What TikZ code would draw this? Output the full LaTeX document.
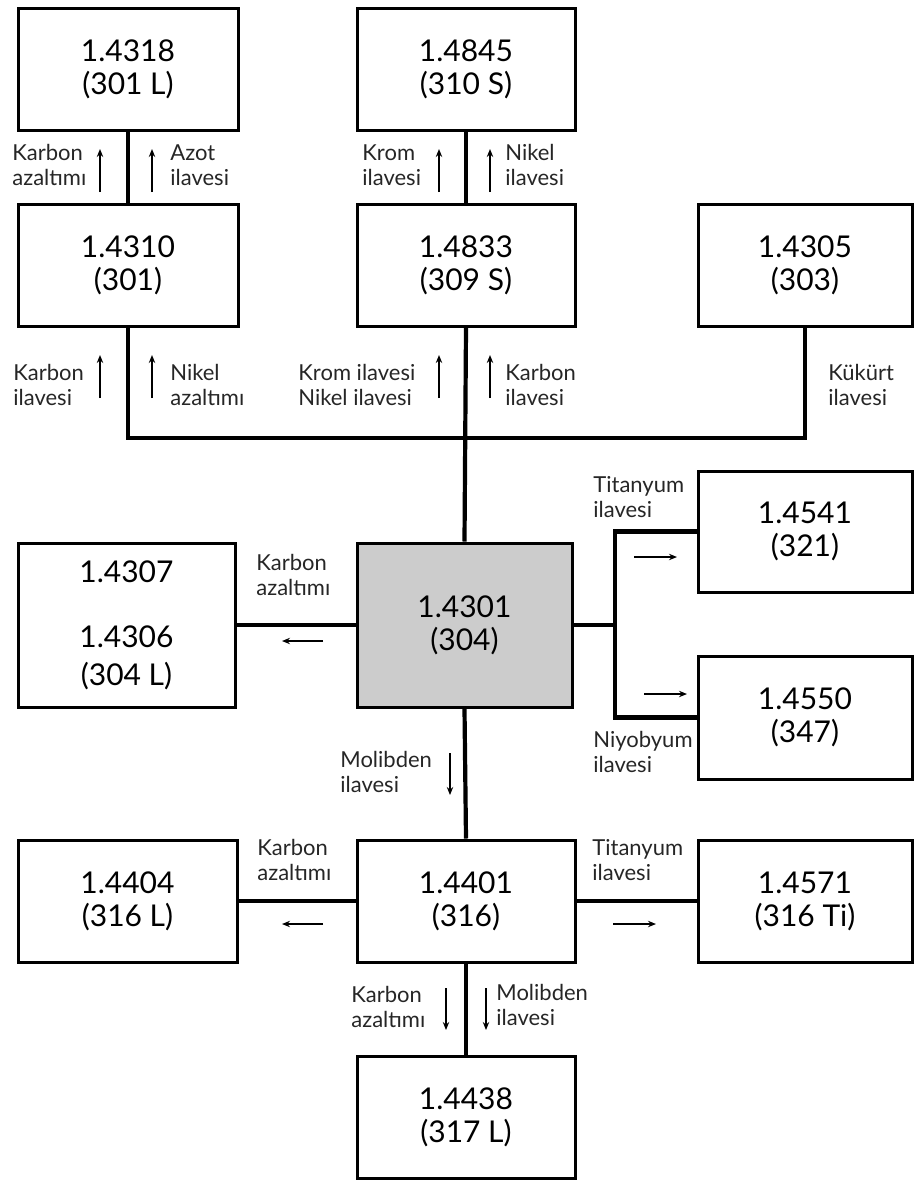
\documentclass[tikz,border=0pt]{standalone}
\usepackage{fontspec}
\setmainfont{Lato}
\newfontfamily\cuefont{Lato}
\usetikzlibrary{arrows.meta,positioning,calc}

\begin{document}
\begin{tikzpicture}[x=0.5pt,y=-0.5pt,>=Stealth,
  grade/.style={draw,line width=1.5pt,minimum width=109pt,minimum height=61pt,align=center,inner sep=0pt,font=\fontsize{15}{16.5}\selectfont},
  tall/.style={minimum height=82pt},
  conn/.style={line width=2.1pt},
  cue/.style={->,line width=0.7pt,>={Stealth[length=4pt,width=3.2pt]}},
  note/.style={anchor=west,align=left,inner sep=0pt,text=black!85,font=\cuefont\fontsize{11}{12.5}\selectfont}]
\useasboundingbox (0,0) rectangle (915,1180);
% grade boxes
\node[grade,minimum width=110pt] (g4318) at (128,69) {1.4318\\(301 L)};
\node[grade,minimum width=110pt] (g4310) at (128,265.5) {1.4310\\(301)};
\node[grade] (g4845) at (466,69) {1.4845\\(310 S)};
\node[grade] (g4833) at (466,265.5) {1.4833\\(309 S)};
\node[grade,minimum width=107pt] (g4305) at (805,265.5) {1.4305\\(303)};
\node[grade,tall,minimum width=107.5pt,fill=black!20] (g4301) at (464.5,625) {1.4301\\(304)};
\node[grade,tall,minimum width=108.5pt] (g4307) at (126.5,625) {1.4307\\[16pt]1.4306\\[2.5pt](304 L)};
\node[grade,minimum width=107pt,minimum height=60.5pt] (g4541) at (805,531.5) {1.4541\\(321)};
\node[grade,minimum width=107pt,minimum height=61.5pt] (g4550) at (805,717.5) {1.4550\\(347)};
\node[grade,minimum width=109.5pt] (g4404) at (127.5,901) {1.4404\\(316 L)};
\node[grade] (g4401) at (466,901) {1.4401\\(316)};
\node[grade,minimum width=107pt] (g4571) at (805,901) {1.4571\\(316 Ti)};
\node[grade] (g4438) at (466,1117) {1.4438\\(317 L)};
% connectors
\coordinate (bus) at (0,438);
\coordinate (fork) at (615,0);
\draw[conn] (g4318.south) -- (g4310.north);
\draw[conn] (g4845.south) -- (g4833.north);
\draw[conn] (g4310.south) -- (g4310.south |- bus) -- (g4305.south |- bus) -- (g4305.south);
\draw[conn] (g4833.south) -- (g4301.north);
\draw[conn] (g4301.west) -- (g4307.east);
\draw[conn] (g4301.east) -- (g4301.east -| fork);
\draw[conn] (g4541.west) -- (g4541.west -| fork) -- (g4550.west -| fork) -- (g4550.west);
\draw[conn] (g4301.south) -- (g4401.north);
\draw[conn] (g4401.west) -- (g4404.east);
\draw[conn] (g4401.east) -- (g4571.west);
\draw[conn] (g4401.south) -- (g4438.north);
% labels
\node[note] (n1) at (12,165) {Karbon\\azaltımı};
\node[note] (n2) at (170,165) {Azot\\ilavesi};
\node[note] (n3) at (362,165) {Krom\\ilavesi};
\node[note] (n4) at (505,165) {Nikel\\ilavesi};
\node[note] (n5) at (13,385) {Karbon\\ilavesi};
\node[note] (n6) at (170,385) {Nikel\\azaltımı};
\node[note] (n7) at (298,385) {Krom ilavesi\\Nikel ilavesi};
\node[note] (n8) at (505,385) {Karbon\\ilavesi};
\node[note] (n9) at (828,385) {Kükürt\\ilavesi};
\node[note] (n10) at (256,575) {Karbon\\azaltımı};
\node[note] (n11) at (593,497) {Titanyum\\ilavesi};
\node[note] (n12) at (593,752) {Niyobyum\\ilavesi};
\node[note] (n13) at (340,772) {Molibden\\ilavesi};
\node[note] (n14) at (257,860) {Karbon\\azaltımı};
\node[note] (n15) at (592,860) {Titanyum\\ilavesi};
\node[note] (n16) at (351,1007) {Karbon\\azaltımı};
\node[note] (n17) at (496,1005) {Molibden\\ilavesi};
% direction cues
\foreach \x/\y in {100/192,152/192,439/192,490/192,100/398,152/398,439/398,490/398}
  \draw[cue] (\x,\y) -- ++(0,-43);
\foreach \x/\y in {450/753,446/988,486/988}
  \draw[cue] (\x,\y) -- ++(0,42);
\foreach \x/\y in {323/641,323/924}
  \draw[cue] (\x,\y) -- ++(-41,0);
\foreach \x/\y in {634/557,644/694,613/924}
  \draw[cue] (\x,\y) -- ++(43,0);
\end{tikzpicture}
\end{document}
